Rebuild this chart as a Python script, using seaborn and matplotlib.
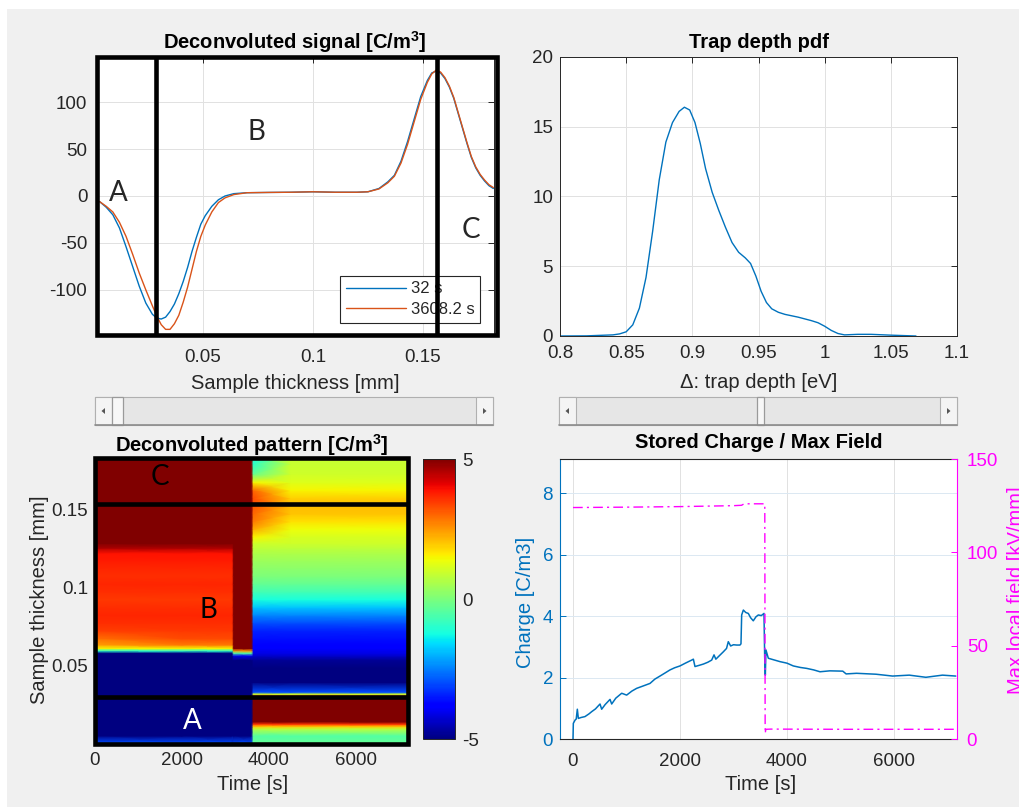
import numpy as np
import pandas as pd
import matplotlib
matplotlib.use("Agg")
import matplotlib.pyplot as plt
import seaborn as sns
from matplotlib.patches import Rectangle, Polygon

# ---------------- data ----------------
thickness_mm = [0.003, 0.006, 0.009, 0.012, 0.015, 0.018, 0.021, 0.024, 0.027, 0.029,
                0.031, 0.033, 0.035, 0.037, 0.039, 0.041, 0.043, 0.045, 0.047, 0.049,
                0.051, 0.054, 0.057, 0.060, 0.064, 0.070, 0.080, 0.090, 0.100, 0.110,
                0.120, 0.125, 0.130, 0.134, 0.137, 0.140, 0.143, 0.146, 0.149, 0.152,
                0.154, 0.156, 0.158, 0.160, 0.162, 0.164, 0.166, 0.168, 0.170, 0.172,
                0.174, 0.176, 0.178, 0.180, 0.182]
signal_32s = [-6, -12, -20, -34, -54, -75, -96, -114, -126, -130,
              -131, -129, -123, -115, -104, -91, -76, -59, -44, -30,
              -21, -11, -4, 0, 2.5, 3.5, 3.8, 4, 4.5, 4,
              4, 4.5, 8, 15, 22, 37, 58, 82, 106, 123,
              131, 133, 131, 125, 116, 104, 88, 72, 56, 41,
              30, 22, 16, 11, 8]
signal_3608s = [-6, -11, -17, -28, -43, -62, -82, -100, -117, -128,
                -137, -142, -142, -136, -127, -113, -97, -78, -59, -43,
                -31, -17, -7, -2, 1.5, 3.5, 3.8, 4, 4.5, 4,
                4, 4.5, 7.5, 14, 21, 35, 55, 79, 103, 121,
                130, 134, 132, 126, 117, 105, 89, 73, 57, 42,
                31, 23, 17, 12, 9]
legend_labels = ["32 s", "3608.2 s"]

trap_depth_eV = [0.80, 0.82, 0.84, 0.845, 0.85, 0.855, 0.86, 0.865, 0.87, 0.875,
                 0.88, 0.885, 0.89, 0.894, 0.898, 0.902, 0.906, 0.91, 0.915, 0.92,
                 0.925, 0.93, 0.935, 0.94, 0.944, 0.948, 0.952, 0.956, 0.96, 0.965,
                 0.97, 0.98, 0.99, 0.995, 1.0, 1.005, 1.01, 1.015, 1.025, 1.035,
                 1.05, 1.069]
trap_pdf = [0.0, 0.01, 0.08, 0.15, 0.3, 0.8, 2.0, 4.2, 7.5, 11.2,
            13.9, 15.3, 16.1, 16.4, 16.2, 15.3, 13.8, 12.0, 10.3, 9.0,
            7.8, 6.7, 6.0, 5.6, 5.2, 4.3, 3.2, 2.4, 1.95, 1.7,
            1.55, 1.35, 1.1, 0.95, 0.7, 0.4, 0.18, 0.08, 0.12, 0.12,
            0.06, 0.0]

# heat map: depth bands (edges) and charge-density profile of each band at time knots
depth_edges_mm = [0, 0.0015, 0.009, 0.0105, 0.012, 0.0135, 0.015, 0.0295, 0.0305, 0.0315,
                  0.0325, 0.034, 0.045, 0.052, 0.0555, 0.0575, 0.059, 0.0605, 0.062, 0.065,
                  0.07, 0.075, 0.08, 0.085, 0.09, 0.095, 0.10, 0.105, 0.11, 0.115,
                  0.12, 0.124, 0.127, 0.13, 0.135, 0.14, 0.145, 0.15, 0.155, 0.16,
                  0.165, 0.17, 0.176, 0.183]
time_knots_s = [0, 2000, 3150, 3190, 3600, 3640, 4500, 7200]
rho_before = [-3.0, -6, -6, -6, -6, -6, -6, -6, -6, -6, -6, -6, -6, -6, -6, -6,
              -1.0, 1.5, 2.4, 2.9, 3.4, 3.6, 3.7, 3.6, 3.5, 3.6, 3.7, 3.6, 3.7, 3.8, 3.9,
              4.6, 6, 6, 6, 6, 6, 6, 6, 6, 6, 6, 6]
rho_before_late = [-3.0, -6, -6, -6, -6, -6, -6, -6, -6, -6, -6, -6, -6, -6, -6, -6,
                   -1.0, 1.5, 2.8, 3.3, 3.5, 3.6, 3.7, 3.6, 3.5, 3.6, 3.7, 3.6, 3.7, 3.8, 3.9,
                   4.6, 6, 6, 6, 6, 6, 6, 6, 6, 6, 6, 6]
rho_block = [-3.0, -6, -6, -6, -6, -6, -6, -6, -6, -6, -6, -6, -6, -6,
             -4.0, -0.5, 2.5, 5.0, 6, 6, 6, 6, 6, 6, 6, 6, 6, 6, 6, 6, 6,
             6, 6, 6, 6, 6, 6, 6, 6, 6, 6, 6, 6]
rho_after_early = [-0.3, -0.5, 0.8, 2.0, 3.5, 5.0, 6, 6, 3.0, 1.0, -3.0, -5.8, -5.5, -4.8,
                   -4.3, -4.1, -4.0, -3.9, -3.8, -3.6, -3.4, -3.0, -2.4, -1.8, -1.2, -0.7,
                   -0.3, 0.0, 0.2, 0.4, 0.6, 0.8, 1.0, 1.5, 2.3, 2.8, 3.0, 3.2, 3.3, 3.0,
                   1.5, -0.3, -1.0]
rho_after = [-0.3, -0.5, 0.8, 2.0, 3.5, 5.0, 6, 6, 3.0, 1.0, -3.0, -5.8, -5.5, -4.8,
             -4.3, -4.1, -4.0, -3.9, -3.8, -3.6, -3.4, -3.0, -2.4, -1.8, -1.2, -0.7,
             -0.3, 0.0, 0.2, 0.4, 0.6, 0.8, 1.0, 1.1, 1.4, 1.7, 2.0, 2.1, 1.9, 1.5,
             1.2, 1.0, 0.9]
knot_profiles = [rho_before, rho_before_late, rho_before_late, rho_block, rho_block,
                 rho_after_early, rho_after, rho_after]

charge_time_s = [0, 6, 40, 60, 81, 100, 150, 224, 300, 349, 420, 505, 536, 600, 692, 723, 800,
                 910, 1003, 1100, 1190, 1300, 1439, 1530, 1626, 1720, 1813, 1900, 2000, 2100,
                 2218, 2250, 2280, 2360, 2436, 2520, 2592, 2636, 2670, 2740, 2810, 2870, 2903,
                 2947, 3000, 3060, 3121, 3140, 3153, 3184, 3230, 3277, 3320, 3370, 3420, 3464,
                 3520, 3570, 3583, 3595, 3607, 3651, 3750, 3869, 4000, 4118, 4250, 4368, 4500,
                 4617, 4800, 5043, 5105, 5300, 5664, 5975, 6286, 6596, 6907, 7155]
charge_Cm3 = [0, 0.51, 0.62, 0.65, 0.97, 0.67, 0.70, 0.73, 0.82, 0.89, 0.98, 1.14, 0.97, 1.12,
              1.29, 1.14, 1.33, 1.49, 1.43, 1.56, 1.65, 1.72, 1.81, 1.95, 2.05, 2.15, 2.25,
              2.32, 2.38, 2.47, 2.57, 2.60, 2.36, 2.40, 2.44, 2.50, 2.57, 2.74, 2.60, 2.72,
              2.84, 2.95, 3.17, 3.03, 3.07, 3.06, 3.06, 3.10, 4.04, 4.20, 4.12, 4.09, 3.95,
              3.85, 3.98, 4.04, 4.02, 4.09, 2.68, 2.08, 2.90, 2.63, 2.58, 2.52, 2.47, 2.38,
              2.33, 2.30, 2.25, 2.19, 2.22, 2.21, 2.12, 2.14, 2.11, 2.05, 2.08, 2.01, 2.08, 2.05]
field_time_s = [0, 1000, 2000, 3000, 3150, 3200, 3585, 3592, 3605, 3700, 5000, 7180]
field_kVmm = [124, 124.2, 124.5, 125, 125.2, 126, 126, 3, 5.2, 5.3, 5.2, 5.2]

# ---------------- style ----------------
W, H = 1019, 809
BLUE = "#0072BD"
ORANGE = "#D95319"
MAG = "#FF00FF"
TXT = "#262626"
GRID = "#e1e1e1"

sns.set_theme(style="white")
plt.rcParams['font.family'] = ['Liberation Sans', 'DejaVu Sans']
plt.rcParams['axes.unicode_minus'] = False
plt.rcParams['mathtext.fontset'] = 'custom'
plt.rcParams['mathtext.rm'] = 'Liberation Sans'
plt.rcParams['mathtext.bf'] = 'Liberation Sans:bold'

TICK_FS = 13.5
LAB_FS = 14.5
TITLE_FS = 14.5
ABC = ["Lato", "DejaVu Sans"]


def fx(X):
    return X / W


def fy(Y):
    return 1 - Y / H


def box(X0, Y0, X1, Y1):
    return [fx(X0), fy(Y1), (X1 - X0) / W, (Y1 - Y0) / H]


fig = plt.figure(figsize=(W / 100, H / 100), dpi=100)
fig.patch.set_facecolor("white")
fig.add_artist(Rectangle((fx(7), fy(807)), (W - 7) / W, (807 - 9) / H,
                         transform=fig.transFigure, fc="#f0f0f0", ec="none", zorder=-10))


def style_axes(ax, xpad, ypad):
    ax.set_facecolor("white")
    for s in ax.spines.values():
        s.set_color(TXT)
        s.set_linewidth(0.7)
    ax.tick_params(axis="both", direction="in", length=4, width=0.7, colors=TXT,
                   labelsize=TICK_FS, top=True, right=True)
    ax.tick_params(axis="x", pad=xpad)
    ax.tick_params(axis="y", pad=ypad)
    ax.grid(True, color=GRID, lw=0.7)
    ax.set_axisbelow(True)


def slider(X0, X1, Y0, Y1, T0, T1):
    fig.add_artist(Rectangle((fx(X0), fy(Y1)), (X1 - X0) / W, (Y1 - Y0) / H,
                             transform=fig.transFigure, fc="#e6e6e6", ec="#b0b0b0", lw=0.8))
    fig.add_artist(plt.Line2D([fx(X0), fx(X1)], [fy(Y1), fy(Y1)], transform=fig.transFigure,
                              color="#8c8c8c", lw=1.2))
    for bx in (X0, X1 - 17):
        fig.add_artist(Rectangle((fx(bx), fy(Y1)), 17 / W, (Y1 - Y0) / H,
                                 transform=fig.transFigure, fc="#f4f4f4", ec="#b0b0b0", lw=0.8))
    cy = (Y0 + Y1) / 2
    lx = X0 + 8.5
    fig.add_artist(Polygon([[fx(lx - 2), fy(cy)], [fx(lx + 1.5), fy(cy - 3)], [fx(lx + 1.5), fy(cy + 3)]],
                           closed=True, transform=fig.transFigure, fc="#555555", ec="none"))
    rx = X1 - 8.5
    fig.add_artist(Polygon([[fx(rx + 2), fy(cy)], [fx(rx - 1.5), fy(cy - 3)], [fx(rx - 1.5), fy(cy + 3)]],
                           closed=True, transform=fig.transFigure, fc="#555555", ec="none"))
    fig.add_artist(Rectangle((fx(T0), fy(Y1)), (T1 - T0) / W, (Y1 - Y0) / H,
                             transform=fig.transFigure, fc="#f7f7f7", ec="#9a9a9a", lw=0.9))


# ---------------- top-left: deconvoluted signal ----------------
ax1 = fig.add_axes(box(97, 57, 494, 335))
style_axes(ax1, 10, 7)
sns.lineplot(x=thickness_mm, y=signal_32s, ax=ax1, color=BLUE, lw=1.0,
             label=legend_labels[0], estimator=None, sort=False)
sns.lineplot(x=thickness_mm, y=signal_3608s, ax=ax1, color=ORANGE, lw=1.0,
             label=legend_labels[1], estimator=None, sort=False)
ax1.set_xlim(0.0018, 0.1823)
ax1.set_ylim(-148, 148)
ax1.set_xticks([0.05, 0.1, 0.15])
ax1.set_xticklabels(["0.05", "0.1", "0.15"])
ax1.set_yticks([-100, -50, 0, 50, 100])
ax1.set_xlabel("Sample thickness [mm]", fontsize=LAB_FS, color=TXT)
ax1.xaxis.label.set_va("center")
ax1.xaxis.set_label_coords(0.4987, -0.173)
ax1.set_ylabel("")
leg = ax1.legend(loc="lower right", bbox_to_anchor=(0.965, 0.043), borderaxespad=0,
                 fontsize=12, frameon=True, fancybox=False, framealpha=1,
                 edgecolor=TXT, handlelength=3.6, handletextpad=0.3, borderpad=0.35,
                 labelspacing=0.35)
leg.get_frame().set_linewidth(0.8)
for t in leg.get_texts():
    t.set_color(TXT)
leg.set_zorder(5)
ax1.add_patch(Rectangle((0, 0), 1.008, 1, transform=ax1.transAxes, fill=False,
                        lw=3.3, ec="black", clip_on=False, zorder=7))
ax1.axvline(0.0286, color="black", lw=3.3, zorder=7)
ax1.axvline(0.1562, color="black", lw=3.3, zorder=7)
ax1.text(0.0114, 3, "A", fontsize=20, family=ABC, ha="center", va="center", zorder=8)
ax1.text(0.0745, 68, "B", fontsize=20, family=ABC, ha="center", va="center", zorder=8)
ax1.text(0.172, -36, "C", fontsize=20, family=ABC, ha="center", va="center", zorder=8)
fig.text(fx(295), fy(42), r"Deconvoluted signal [C/m$^{\mathbf{3}}$]", fontsize=TITLE_FS,
         fontweight="bold", ha="center", va="center", color="black")

# ---------------- top-right: trap depth pdf ----------------
ax2 = fig.add_axes(box(560, 57, 957, 336))
style_axes(ax2, 6.5, 5)
sns.lineplot(x=trap_depth_eV, y=trap_pdf, ax=ax2, color=BLUE, lw=1.0, estimator=None, sort=False)
ax2.set_xlim(0.8, 1.1)
ax2.set_ylim(0, 20)
ax2.set_xticks([0.8, 0.85, 0.9, 0.95, 1.0, 1.05, 1.1])
ax2.set_xticklabels(["0.8", "0.85", "0.9", "0.95", "1", "1.05", "1.1"])
ax2.set_yticks([0, 5, 10, 15, 20])
ax2.set_xlabel("\u0394: trap depth [eV]", fontsize=LAB_FS, color=TXT)
ax2.xaxis.label.set_va("center")
ax2.xaxis.set_label_coords(0.5, -0.168)
ax2.set_ylabel("")
fig.text(fx(759), fy(42), "Trap depth pdf", fontsize=TITLE_FS, fontweight="bold",
         ha="center", va="center", color="black")

# ---------------- sliders ----------------
slider(95, 493, 397, 425, 112, 123)
slider(559, 957, 397, 425, 757, 764)

# ---------------- bottom-left: deconvoluted pattern ----------------
ax3 = fig.add_axes(box(95, 458, 408, 744))
edges = np.asarray(depth_edges_mm)
depth_nodes = np.concatenate([[0.0], (edges[:-1] + edges[1:]) / 2, [edges[-1]]])
Z = np.column_stack([np.concatenate([[p[0]], p, [p[-1]]]) for p in knot_profiles])
mesh = ax3.pcolormesh(time_knots_s, depth_nodes, Z, cmap="jet", vmin=-5, vmax=5,
                      shading="gouraud", rasterized=True)
ax3.set_xlim(0, 7195)
ax3.set_ylim(0, 0.1832)
for s in ax3.spines.values():
    s.set_color(TXT)
ax3.tick_params(axis="both", direction="in", length=4, width=0.7, colors=TXT,
                labelsize=TICK_FS, top=True, right=True)
ax3.tick_params(axis="x", pad=6)
ax3.tick_params(axis="y", pad=5)
ax3.set_xticks([0, 2000, 4000, 6000])
ax3.set_yticks([0.05, 0.1, 0.15])
ax3.set_yticklabels(["0.05", "0.1", "0.15"])
ax3.set_xlabel("Time [s]", fontsize=LAB_FS, color=TXT)
ax3.xaxis.label.set_va("center")
ax3.xaxis.set_label_coords(0.503, -0.14)
ax3.set_ylabel("Sample thickness [mm]", fontsize=LAB_FS, color=TXT)
ax3.yaxis.label.set_va("center")
ax3.yaxis.set_label_coords(-0.176, 0.503)
ax3.add_patch(Rectangle((0, 0), 1, 1, transform=ax3.transAxes, fill=False,
                        lw=3.3, ec="black", clip_on=False, zorder=7))
ax3.axhline(0.154, color="black", lw=3.3, zorder=7)
ax3.axhline(0.030, color="black", lw=3.3, zorder=7)
ax3.text(1494, 0.171, "C", fontsize=20, family=ABC, ha="center", va="center",
         color="black", zorder=8)
ax3.text(2598, 0.086, "B", fontsize=20, family=ABC, ha="center", va="center",
         color="black", zorder=8)
ax3.text(2230, 0.015, "A", fontsize=20, family=ABC, ha="center", va="center",
         color="white", zorder=8)
fig.text(fx(252), fy(445), r"Deconvoluted pattern [C/m$^{\mathbf{3}}$]", fontsize=TITLE_FS,
         fontweight="bold", ha="center", va="center", color="black")

cax = fig.add_axes(box(423, 459, 455, 739))
cb = fig.colorbar(mesh, cax=cax, ticks=[-5, 0, 5])
cb.outline.set_edgecolor(TXT)
cb.outline.set_linewidth(0.7)
cax.tick_params(direction="in", length=3, width=0.7, colors=TXT, labelsize=TICK_FS, pad=5)

# ---------------- bottom-right: stored charge / max field ----------------
ax4 = fig.add_axes(box(560, 459, 957, 739))
ax4.set_facecolor("white")
sns.lineplot(x=charge_time_s, y=charge_Cm3, ax=ax4, color=BLUE, lw=1.1, estimator=None, sort=False)
ax4.set_xlim(-243, 7178)
ax4.set_ylim(0, 9.12)
ax4.set_xticks([0, 2000, 4000, 6000])
ax4.set_yticks([0, 2, 4, 6, 8])
ax4.xaxis.grid(True, color=GRID, lw=0.7)
ax4.yaxis.grid(True, color="#dbe8f2", lw=0.7)
ax4.set_axisbelow(True)
ax4.tick_params(axis="x", direction="in", length=4, width=0.7, colors=TXT, labelsize=TICK_FS, pad=10)
ax4.tick_params(axis="y", direction="in", length=4, width=0.7, colors=BLUE, labelsize=TICK_FS, pad=5)
ax4.spines["left"].set_color(BLUE)
ax4.spines["top"].set_color(TXT)
ax4.spines["bottom"].set_color(TXT)
ax4.spines["right"].set_visible(False)
for s in ax4.spines.values():
    s.set_linewidth(0.8)
ax4.set_xlabel("Time [s]", fontsize=LAB_FS, color=TXT)
ax4.xaxis.label.set_va("center")
ax4.xaxis.set_label_coords(0.504, -0.164)
ax4.set_ylabel("Charge [C/m3]", fontsize=LAB_FS, color=BLUE)
ax4.yaxis.label.set_va("center")
ax4.yaxis.set_label_coords(-0.087, 0.486)

ax5 = ax4.twinx()
sns.lineplot(x=field_time_s, y=field_kVmm, ax=ax5, color=MAG, lw=1.0, estimator=None, sort=False)
ax5.lines[-1].set_linestyle((0, (7, 3, 1.5, 3)))
ax5.set_ylim(0, 150)
ax5.set_yticks([0, 50, 100, 150])
ax5.tick_params(axis="y", direction="in", length=4, width=0.7, colors=MAG, labelsize=TICK_FS, pad=7)
for k in ("left", "top", "bottom"):
    ax5.spines[k].set_visible(False)
ax5.spines["right"].set_color(MAG)
ax5.spines["right"].set_linewidth(0.8)
ax5.set_ylabel("Max local field [kV/mm]", fontsize=LAB_FS, color=MAG)
ax5.yaxis.label.set_va("center")
ax5.yaxis.set_label_coords(1.149, 0.532)
fig.text(fx(759), fy(443), "Stored Charge / Max Field", fontsize=TITLE_FS, fontweight="bold",
         ha="center", va="center", color="black")

fig.savefig("out.png", dpi=100)
